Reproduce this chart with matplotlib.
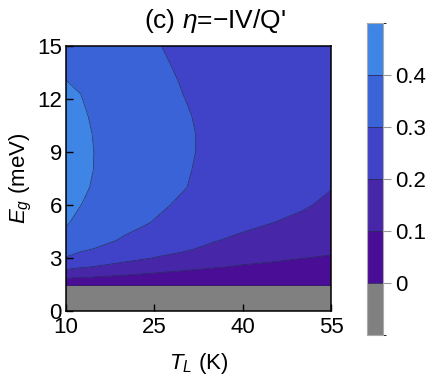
import numpy as np
import matplotlib.pyplot as plt
from matplotlib.colors import ListedColormap, BoundaryNorm

plt.rcParams['font.family'] = ['Liberation Sans', 'DejaVu Sans']
plt.rcParams['mathtext.fontset'] = 'custom'
plt.rcParams['mathtext.rm'] = 'Liberation Sans'
plt.rcParams['mathtext.it'] = 'Liberation Sans:italic'

# lattice temperature (K) and gap energy (meV)
t_l = [10, 12.5, 15, 20, 25, 30, 35, 40, 45, 50, 55]
e_g = [0, 1.4, 1.5, 2, 2.5, 3, 3.5, 4, 5, 6, 7, 8, 9, 10, 11, 12, 13, 14, 15]

# efficiency eta, one row per e_g value (negative = gray region)
eta = [
    [-0.05, -0.05, -0.05, -0.05, -0.05, -0.05, -0.05, -0.05, -0.05, -0.05, -0.05],
    [-0.05, -0.05, -0.05, -0.05, -0.05, -0.05, -0.05, -0.05, -0.05, -0.05, -0.05],
    [0.025, 0.025, 0.025, 0.025, 0.025, 0.025, 0.025, 0.025, 0.025, 0.025, 0.025],
    [0.132, 0.121, 0.112, 0.096, 0.083, 0.074, 0.068, 0.065, 0.062, 0.060, 0.058],
    [0.228, 0.209, 0.197, 0.170, 0.140, 0.120, 0.105, 0.094, 0.088, 0.082, 0.078],
    [0.295, 0.275, 0.247, 0.225, 0.198, 0.168, 0.140, 0.121, 0.110, 0.101, 0.095],
    [0.335, 0.310, 0.297, 0.260, 0.232, 0.213, 0.175, 0.148, 0.132, 0.120, 0.110],
    [0.365, 0.335, 0.320, 0.292, 0.258, 0.240, 0.207, 0.175, 0.155, 0.140, 0.124],
    [0.410, 0.370, 0.350, 0.320, 0.297, 0.270, 0.245, 0.230, 0.201, 0.178, 0.150],
    [0.440, 0.401, 0.372, 0.335, 0.312, 0.290, 0.268, 0.252, 0.230, 0.212, 0.180],
    [0.460, 0.420, 0.387, 0.345, 0.318, 0.3025, 0.280, 0.266, 0.248, 0.235, 0.204],
    [0.470, 0.430, 0.395, 0.350, 0.322, 0.305, 0.287, 0.275, 0.260, 0.249, 0.225],
    [0.470, 0.432, 0.396, 0.350, 0.323, 0.306, 0.291, 0.280, 0.268, 0.258, 0.240],
    [0.462, 0.428, 0.392, 0.347, 0.322, 0.3055, 0.292, 0.282, 0.272, 0.263, 0.250],
    [0.445, 0.418, 0.383, 0.342, 0.319, 0.3035, 0.291, 0.283, 0.274, 0.266, 0.256],
    [0.425, 0.404, 0.372, 0.336, 0.315, 0.3005, 0.289, 0.282, 0.275, 0.268, 0.260],
    [0.401, 0.390, 0.360, 0.330, 0.311, 0.2975, 0.286, 0.280, 0.274, 0.268, 0.262],
    [0.385, 0.375, 0.348, 0.324, 0.307, 0.294, 0.283, 0.278, 0.272, 0.267, 0.262],
    [0.370, 0.360, 0.335, 0.318, 0.303, 0.2905, 0.280, 0.275, 0.270, 0.265, 0.261],
]

levels = [-0.1, 0, 0.1, 0.2, 0.3, 0.4, 0.5]
level_colors = ['#808080', '#4a0d96', '#4727a8', '#4043c8', '#3b63d8', '#3f85e5']
cbar_ticks = [0, 0.1, 0.2, 0.3, 0.4]
cbar_labels = ['0', '0.1', '0.2', '0.3', '0.4']

cmap = ListedColormap(level_colors)
norm = BoundaryNorm(levels, cmap.N)

fig = plt.figure(figsize=(4.3, 3.77), dpi=100)
ax = fig.add_axes([66 / 430, 1 - 311 / 377, 265 / 430, 265 / 377])
cax = fig.add_axes([367 / 430, 1 - 335 / 377, 16 / 430, 312 / 377])

filled = ax.contourf(t_l, e_g, np.array(eta), levels=levels, cmap=cmap, norm=norm)
ax.contour(t_l, e_g, np.array(eta), levels=cbar_ticks, colors='#26264f',
           linewidths=0.6, alpha=0.75)

ax.set_xlim(10, 55)
ax.set_ylim(0, 15)
ax.set_xticks([10, 25, 40, 55])
ax.set_yticks([0, 3, 6, 9, 12, 15])
ax.tick_params(direction='in', length=5, width=1, labelsize=16, pad=3)
ax.tick_params(axis='x', pad=4)
for spine in ax.spines.values():
    spine.set_linewidth(1.1)

ax.set_xlabel(r'$T_L$ (K)', fontsize=16, labelpad=10)
ax.set_ylabel(r'$E_g$ (meV)', fontsize=16, labelpad=2)
fig.text(0.5, 1 - 28 / 377, "(c) $\\eta$=\u2212IV/Q'", ha='center', va='baseline', fontsize=19)

cbar = fig.colorbar(filled, cax=cax, ticks=cbar_ticks, drawedges=True)
cbar.ax.set_yticklabels(cbar_labels)
cbar.dividers.set_color('#2a2a5a')
cbar.dividers.set_linewidth(0.6)
cbar.outline.set_edgecolor('#aaaaaa')
cbar.outline.set_linewidth(0.8)
cax.tick_params(direction='out', length=6, width=0.8, color='#999999', labelsize=16, pad=3)

fig.savefig('out.png', dpi=100)
